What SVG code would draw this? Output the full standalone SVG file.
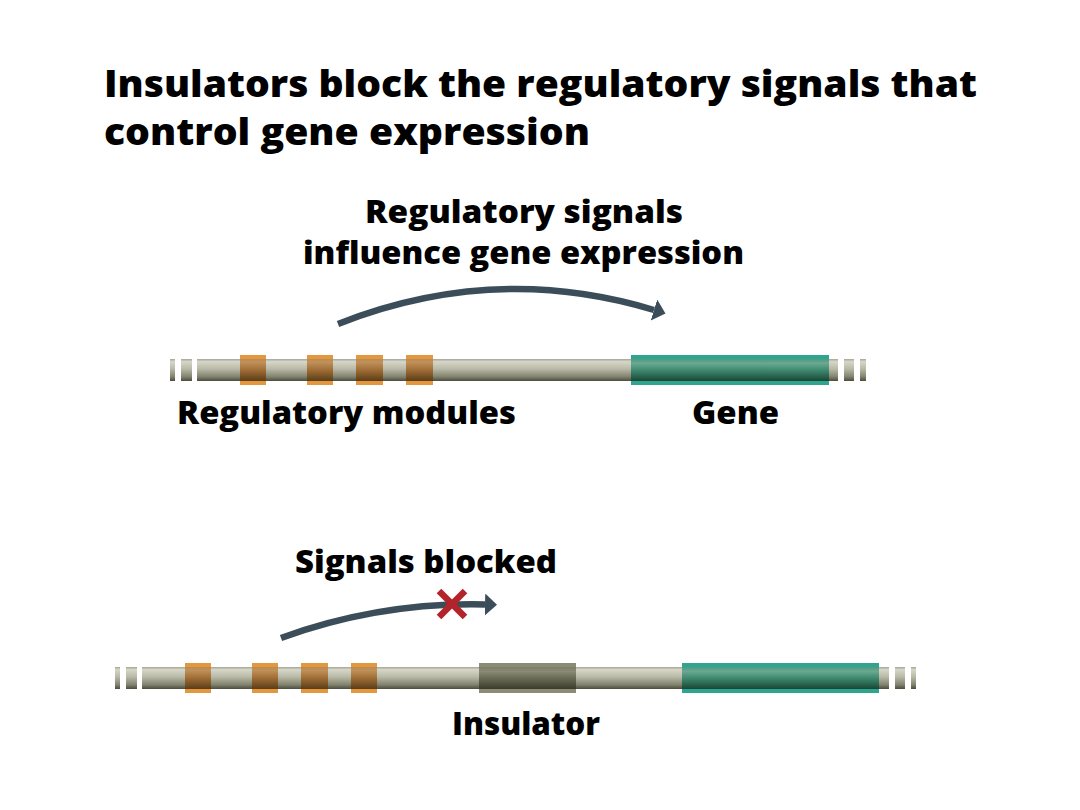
<svg xmlns="http://www.w3.org/2000/svg" width="1080" height="810" viewBox="0 0 1080 810">
<style>
  .t { font-family: "Open Sans", "Liberation Sans", sans-serif; font-weight: 800; fill: #000; }
  .title { font-size: 37px; }
  .lab { font-size: 32px; }
  .arrow { fill: none; stroke: #3c4d5a; stroke-width: 6.5; stroke-linecap: butt; }
  .mod { fill: #e3973f; }
  .modIn { fill: url(#modG); }
  .gene { fill: #2fa590; }
  .geneIn { fill: url(#geneG); }
  .ins { fill: #8b8b76; }
  .insIn { fill: url(#insG); }
  .bar { fill: url(#barG); }
  .cross { stroke: #b3242a; stroke-width: 6.5; stroke-linecap: butt; }
</style>
<defs>
  <linearGradient id="barG" x1="0" y1="0" x2="0" y2="1">
    <stop offset="0" stop-color="#a3a492"/>
    <stop offset="0.12" stop-color="#d6d7c8"/>
    <stop offset="0.45" stop-color="#b9b9a7"/>
    <stop offset="0.8" stop-color="#83846f"/>
    <stop offset="1" stop-color="#4b4c3d"/>
  </linearGradient>
  <linearGradient id="modG" x1="0" y1="0" x2="0" y2="1">
    <stop offset="0" stop-color="#b98a52"/>
    <stop offset="0.15" stop-color="#c0915a"/>
    <stop offset="0.5" stop-color="#a06d35"/>
    <stop offset="1" stop-color="#5a3d18"/>
  </linearGradient>
  <linearGradient id="geneG" x1="0" y1="0" x2="0" y2="1">
    <stop offset="0" stop-color="#4f9a82"/>
    <stop offset="0.2" stop-color="#6aa892"/>
    <stop offset="0.5" stop-color="#3f8a70"/>
    <stop offset="1" stop-color="#184634"/>
  </linearGradient>
  <linearGradient id="insG" x1="0" y1="0" x2="0" y2="1">
    <stop offset="0" stop-color="#7b7c66"/>
    <stop offset="0.2" stop-color="#8a8b75"/>
    <stop offset="0.55" stop-color="#666752"/>
    <stop offset="1" stop-color="#3a3b2b"/>
  </linearGradient>
  <marker id="ah" markerUnits="userSpaceOnUse" markerWidth="14" markerHeight="24" refX="0" refY="11" orient="auto">
    <path d="M0,0 L12,11 L0,22 Z" fill="#3c4d5a"/>
  </marker>
</defs>
<rect width="1080" height="810" fill="#fff"/>

<g id="title">
  <text class="t title" x="104" y="97" textLength="873" lengthAdjust="spacingAndGlyphs">Insulators block the regulatory signals that</text>
  <text class="t title" x="104" y="145" textLength="486" lengthAdjust="spacingAndGlyphs">control gene expression</text>
</g>

<g id="strand-top">
  <rect class="bar" x="170" y="359" width="5" height="22"/>
  <rect class="bar" x="181" y="359" width="11" height="22"/>
  <rect class="bar" x="197" y="359" width="641" height="22"/>
  <rect class="bar" x="844" y="359" width="10" height="22"/>
  <rect class="bar" x="860" y="359" width="6" height="22"/>
</g>
<g id="modules-top">
  <rect class="mod" x="240" y="355" width="26" height="30"/><rect class="modIn" x="240" y="359" width="26" height="22"/>
  <rect class="mod" x="307" y="355" width="26" height="30"/><rect class="modIn" x="307" y="359" width="26" height="22"/>
  <rect class="mod" x="356" y="355" width="27" height="30"/><rect class="modIn" x="356" y="359" width="27" height="22"/>
  <rect class="mod" x="406" y="355" width="27" height="30"/><rect class="modIn" x="406" y="359" width="27" height="22"/>
</g>
<g id="gene-top">
  <rect class="gene" x="631" y="355" width="198" height="30"/><rect class="geneIn" x="631" y="359" width="198" height="22"/>
</g>

<g id="strand-bottom">
  <rect class="bar" x="115" y="667" width="5" height="22"/>
  <rect class="bar" x="126" y="667" width="11" height="22"/>
  <rect class="bar" x="142" y="667" width="747" height="22"/>
  <rect class="bar" x="895" y="667" width="10" height="22"/>
  <rect class="bar" x="911" y="667" width="5" height="22"/>
</g>
<g id="modules-bottom">
  <rect class="mod" x="185" y="663" width="26" height="30"/><rect class="modIn" x="185" y="667" width="26" height="22"/>
  <rect class="mod" x="252" y="663" width="26" height="30"/><rect class="modIn" x="252" y="667" width="26" height="22"/>
  <rect class="mod" x="301" y="663" width="27" height="30"/><rect class="modIn" x="301" y="667" width="27" height="22"/>
  <rect class="mod" x="351" y="663" width="26" height="30"/><rect class="modIn" x="351" y="667" width="26" height="22"/>
</g>
<g id="insulator">
  <rect class="ins" x="479" y="663" width="97" height="30"/><rect class="insIn" x="479" y="667" width="97" height="22"/>
</g>
<g id="gene-bottom">
  <rect class="gene" x="682" y="663" width="197" height="30"/><rect class="geneIn" x="682" y="667" width="197" height="22"/>
</g>

<g id="connectors">
  <path class="arrow" d="M338,324 Q495,262 654,310" marker-end="url(#ah)"/>
  <path class="arrow" d="M281,638 Q380,602 485,604.5" marker-end="url(#ah)"/>
</g>

<g id="block-mark">
  <line class="cross" x1="439" y1="591" x2="465" y2="617"/>
  <line class="cross" x1="465" y1="591" x2="439" y2="617"/>
</g>

<g id="labels">
  <text class="t lab" x="365" y="223" textLength="318" lengthAdjust="spacingAndGlyphs">Regulatory signals</text>
  <text class="t lab" x="303" y="264" textLength="441" lengthAdjust="spacingAndGlyphs">influence gene expression</text>
  <text class="t lab" x="177" y="424" textLength="339" lengthAdjust="spacingAndGlyphs">Regulatory modules</text>
  <text class="t lab" x="692" y="424" textLength="87" lengthAdjust="spacingAndGlyphs">Gene</text>
  <text class="t lab" x="295" y="573" textLength="262" lengthAdjust="spacingAndGlyphs">Signals blocked</text>
  <text class="t lab" x="452" y="735" textLength="148" lengthAdjust="spacingAndGlyphs">Insulator</text>
</g>
</svg>
